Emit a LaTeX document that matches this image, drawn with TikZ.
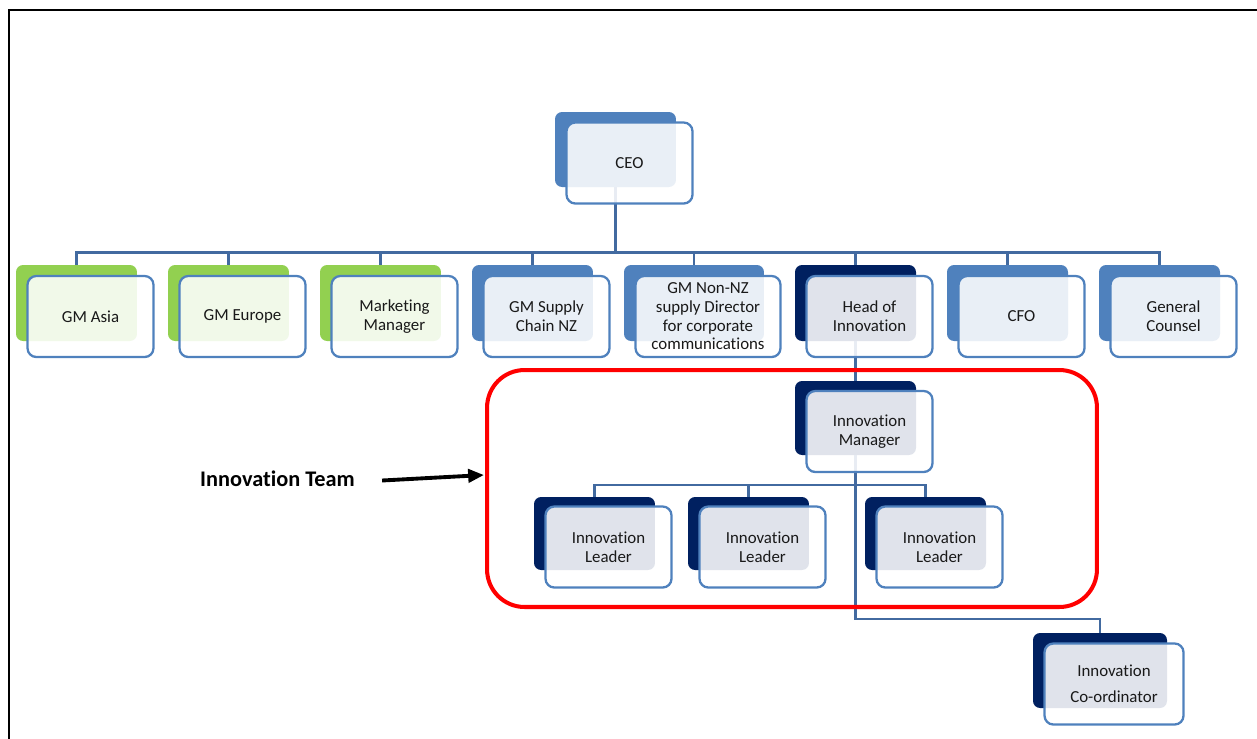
\documentclass[tikz,border=0pt]{standalone}
\usepackage{fontspec}
\setmainfont{Carlito}[Ligatures=NoCommon]
\usetikzlibrary{arrows.meta,positioning}
\definecolor{midblue}{RGB}{79,129,189}
\definecolor{navyblue}{RGB}{0,32,96}
\definecolor{limegreen}{RGB}{146,208,80}
\definecolor{linkblue}{RGB}{66,106,160}
\tikzset{
  backbox/.style={fill=#1, rounded corners=4pt, minimum width=2.42cm, minimum height=1.52cm, inner sep=0pt},
  frontbox/.style={draw=midblue, line width=1.3pt, fill=white, fill opacity=0.88, text opacity=1,
    rounded corners=5pt, minimum width=2.52cm, minimum height=1.62cm, inner sep=0pt,
    align=center, text=black!90, font=\fontsize{9.6}{10.6}\selectfont},
  link/.style={draw=linkblue, line width=1.4pt},
  shift front/.style={shift={(14,13.5)}}
}

\begin{document}
\begin{tikzpicture}[x=0.02cm,y=-0.02cm]
\useasboundingbox (0,0) rectangle (1257,738);
% back plates
\node[backbox=midblue, minimum height=1.5cm] (ceobk) at (615.5,149.5) {};
\node[backbox=limegreen] (asiabk) at (76.5,303) {};
\node[backbox=limegreen] (europebk) at (228.5,303) {};
\node[backbox=limegreen] (mktbk) at (380.5,303) {};
\node[backbox=midblue] (supplybk) at (532.5,303) {};
\node[backbox=midblue, minimum width=2.8cm] (nonnzbk) at (694,303) {};
\node[backbox=navyblue] (hoibk) at (855.5,303) {};
\node[backbox=midblue] (cfobk) at (1007.5,303) {};
\node[backbox=midblue] (gcbk) at (1159.5,303) {};
\node[backbox=navyblue, minimum height=1.48cm] (imbk) at (855.5,418) {};
\node[backbox=navyblue, minimum height=1.46cm] (leadabk) at (594.5,533.5) {};
\node[backbox=navyblue, minimum height=1.46cm] (leadbbk) at (748.5,533.5) {};
\node[backbox=navyblue, minimum height=1.46cm] (leadcbk) at (925.5,533.5) {};
\node[backbox=navyblue, minimum width=2.68cm, minimum height=1.5cm] (coordbk) at (1100,670.5) {};

% connectors
\coordinate (bar) at (0,252);
\coordinate (bartwo) at (0,485);
\coordinate (barthree) at (0,619);
\draw[link, line width=2pt] (ceobk.south) -- (ceobk.south |- bar);
\draw[link, line width=1.7pt] (asiabk.north) -- (asiabk.north |- bar) -- (gcbk.north |- bar) -- (gcbk.north);
\foreach \n in {europebk,mktbk,supplybk,nonnzbk,hoibk,cfobk}
  \draw[link] (\n.north) -- (\n.north |- bar);
\draw[link] (hoibk.south) -- (imbk.north);
\draw[link] (leadabk.north) -- (leadabk.north |- bartwo) -- (leadcbk.north |- bartwo) -- (leadcbk.north);
\draw[link] (leadbbk.north) -- (leadbbk.north |- bartwo);
\draw[link] (imbk.south) -- (imbk.south |- barthree) -| (coordbk.north);

% front cards
\node[frontbox] (ceo) at ([shift front]ceobk.center) {CEO};
\node[frontbox] (asia) at ([shift front]asiabk.center) {GM Asia};
\node[frontbox] (europe) at ([shift front]europebk.center) {GM Europe};
\node[frontbox] (mkt) at ([shift front]mktbk.center) {Marketing\\Manager};
\node[frontbox] (supply) at ([shift front]supplybk.center) {GM Supply\\Chain NZ};
\node[frontbox, minimum width=2.9cm] (nonnz) at ([shift front]nonnzbk.center) {GM Non-NZ\\supply Director\\for corporate\\communications};
\node[frontbox] (hoi) at ([shift front]hoibk.center) {Head of\\Innovation};
\node[frontbox] (cfo) at ([shift front]cfobk.center) {CFO};
\node[frontbox] (gc) at ([shift front]gcbk.center) {General\\Counsel};
\node[frontbox] (im) at ([shift front]imbk.center) {Innovation\\Manager};
\node[frontbox] (leada) at ([shift front]leadabk.center) {Innovation\\Leader};
\node[frontbox] (leadb) at ([shift front]leadbbk.center) {Innovation\\Leader};
\node[frontbox] (leadc) at ([shift front]leadcbk.center) {Innovation\\Leader};
\node[frontbox, minimum width=2.78cm] (coord) at ([shift front]coordbk.center) {Innovation\\[4.1pt]Co-ordinator};

% team outline and pointer
\node[draw=red, line width=2.3pt, rounded corners=0.75cm, minimum width=12.2cm, minimum height=4.74cm] (team) at (792,488.5) {};
\node[font=\bfseries\fontsize{12.7}{14}\selectfont] (teamlbl) at (277.5,479) {Innovation Team};
\coordinate (tip) at (484,475);
\draw[-{Triangle[length=9pt,width=7.5pt]}, line width=2.2pt, shorten <=12pt] ([yshift=-1.5pt]teamlbl.east) -- (tip);

% page frame
\draw[line width=1.1pt] (9,740) -- (9,10) -- (1260,10);
\end{tikzpicture}
\end{document}
